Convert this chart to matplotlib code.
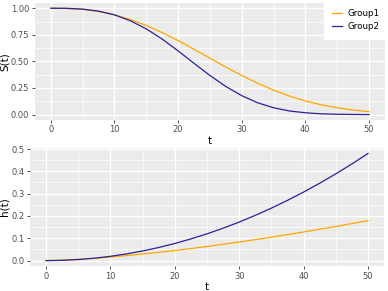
import matplotlib.pyplot as plt
from matplotlib.ticker import MultipleLocator
from matplotlib.lines import Line2D

# values (t step 2.5)
t = [0, 2.5, 5, 7.5, 10, 12.5, 15, 17.5, 20, 22.5, 25, 27.5, 30,
     32.5, 35, 37.5, 40, 42.5, 45, 47.5, 50]
surv_g1 = [1.000, 0.998, 0.989, 0.969, 0.938, 0.894, 0.838, 0.771, 0.696, 0.614, 0.531,
           0.447, 0.368, 0.295, 0.230, 0.174, 0.128, 0.092, 0.064, 0.043, 0.028]
surv_g2 = [1.000, 0.999, 0.992, 0.973, 0.938, 0.882, 0.806, 0.710, 0.599, 0.482, 0.368,
           0.264, 0.178, 0.111, 0.064, 0.034, 0.017, 0.007, 0.003, 0.001, 0.000]
haz_g1 = [0.0, 0.0020, 0.0057, 0.0104, 0.0160, 0.0224, 0.0295, 0.0371, 0.0454, 0.0541, 0.0634,
          0.0731, 0.0833, 0.0940, 0.1050, 0.1165, 0.1283, 0.1405, 0.1531, 0.1660, 0.1793]
haz_g2 = [0.0, 0.0012, 0.0048, 0.0108, 0.0192, 0.0300, 0.0432, 0.0588, 0.0768, 0.0972, 0.1200,
          0.1452, 0.1728, 0.2028, 0.2352, 0.2700, 0.3072, 0.3468, 0.3888, 0.4332, 0.4800]
groups = ['Group1', 'Group2']
colors = ['#FFA500', '#2A2296']

fig = plt.figure(figsize=(3.88, 2.91), dpi=100)
ax1 = fig.add_axes([0.090, 0.588, 0.902, 0.402])
ax2 = fig.add_axes([0.077, 0.086, 0.913, 0.405])


def style(ax, ymajor, yminor, fmt):
    ax.set_facecolor('#EBEBEB')
    for s in ax.spines.values():
        s.set_visible(False)
    ax.xaxis.set_major_locator(MultipleLocator(10))
    ax.xaxis.set_minor_locator(MultipleLocator(5))
    ax.yaxis.set_major_locator(MultipleLocator(ymajor))
    ax.yaxis.set_minor_locator(MultipleLocator(yminor))
    ax.grid(which='major', color='white', lw=1.0)
    ax.grid(which='minor', color='white', lw=0.5)
    ax.set_axisbelow(True)
    ax.tick_params(which='major', length=2.5, width=0.6, color='#333333',
                   labelsize=6, labelcolor='#4D4D4D', pad=1.5)
    ax.tick_params(which='minor', length=0)
    ax.yaxis.set_major_formatter(fmt)
    ax.set_xlim(-2.5, 52.5)


style(ax1, 0.25, 0.125, '{x:.2f}')
ax1.plot(t, surv_g1, color=colors[0], lw=0.9)
ax1.plot(t, surv_g2, color=colors[1], lw=0.9)
ax1.set_ylim(-0.05, 1.05)
ax1.set_ylabel('S(t)', fontsize=7.5)
ax1.yaxis.set_label_coords(-0.072, 0.5)
ax1.set_xlabel('t', fontsize=7.5, labelpad=1)

style(ax2, 0.1, 0.05, '{x:.1f}')
ax2.plot(t, haz_g1, color=colors[0], lw=0.9)
ax2.plot(t, haz_g2, color=colors[1], lw=0.9)
ax2.set_ylim(-0.024, 0.504)
ax2.set_ylabel('h(t)', fontsize=7.5)
ax2.yaxis.set_label_coords(-0.058, 0.5)
ax2.set_xlabel('t', fontsize=7.5, labelpad=1)

handles = [Line2D([], [], color=c, lw=0.9) for c in colors]
leg = fig.legend(handles, groups, loc='upper right', bbox_to_anchor=(1.0, 1.0),
                 fontsize=6.3, frameon=True, fancybox=False, handlelength=1.2,
                 handletextpad=0.6, borderpad=0.9, labelspacing=0.5,
                 borderaxespad=0.1)
leg.get_frame().set_facecolor('white')
leg.get_frame().set_edgecolor('white')
leg.get_frame().set_alpha(1)

fig.savefig('out.png', dpi=100)
